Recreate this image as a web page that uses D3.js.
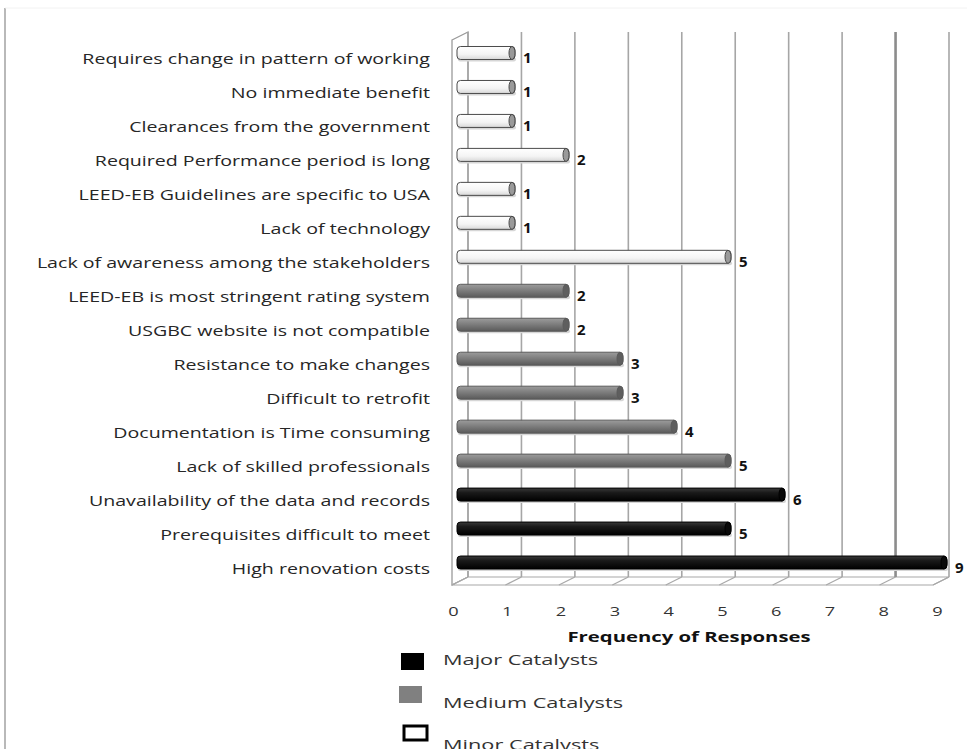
<!DOCTYPE html>
<html>
<head>
<meta charset="utf-8">
<script src="https://cdn.jsdelivr.net/npm/d3@7"></script>
<style>
  html, body { margin: 0; padding: 0; background: #fff; }
  svg { display: block; }
</style>
</head>
<body>
<svg id="chart" width="967" height="749"></svg>
<script>
// Barriers to LEED-EB certification, grouped by catalyst level (top to bottom)
const categories = [
  "Requires change in pattern of working",
  "No immediate benefit",
  "Clearances from the government",
  "Required Performance period is long",
  "LEED-EB Guidelines are specific to USA",
  "Lack of technology",
  "Lack of awareness among the stakeholders",
  "LEED-EB is most stringent rating system",
  "USGBC website is not compatible",
  "Resistance to make changes",
  "Difficult to retrofit",
  "Documentation is Time consuming",
  "Lack of skilled professionals",
  "Unavailability of the data and records",
  "Prerequisites difficult to meet",
  "High renovation costs"
];
const responses = [1, 1, 1, 2, 1, 1, 5, 2, 2, 3, 3, 4, 5, 6, 5, 9];
const levels = ["Minor", "Minor", "Minor", "Minor", "Minor", "Minor", "Minor",
                "Medium", "Medium", "Medium", "Medium", "Medium", "Medium",
                "Major", "Major", "Major"];
const xTicks = [0, 1, 2, 3, 4, 5, 6, 7, 8, 9];
const legendItems = [
  { key: "Major", label: "Major Catalysts" },
  { key: "Medium", label: "Medium Catalysts" },
  { key: "Minor", label: "Minor Catalysts" }
];
const axisTitle = "Frequency of Responses";

const svg = d3.select("#chart");
const FONT = "'Open Sans', 'Noto Sans', sans-serif";
const STRETCH = 1.4;

// 3D frame geometry: front plane and back wall offset by depth
const depth = { dx: 16, dy: -8 };
const front = { left: 452, right: 933, top: 40, bottom: 585 };
const xFront = d3.scaleLinear().domain([0, 9]).range([front.left, front.right]);
const xBack = d3.scaleLinear().domain([0, 9]).range([front.left + depth.dx, front.right + depth.dx]);
const xBar = d3.scaleLinear().domain([0, 9]).range([461, 947]);
const barStart = 457;
const xLabel = d3.scaleLinear().domain([0, 9]).range([453, 937]);
const y = d3.scaleBand().domain(categories).range([36.5, 580]).padding(0);

// figure border
svg.append("line").attr("x1", 5).attr("x2", 5).attr("y1", 8).attr("y2", 749)
  .attr("stroke", "#8a8a8a").attr("stroke-width", 1.2);
svg.append("line").attr("x1", 5).attr("x2", 967).attr("y1", 8).attr("y2", 8)
  .attr("stroke", "#f2f2f2").attr("stroke-width", 1);

const frame = svg.append("g");
// left side wall
frame.append("polygon")
  .attr("points", [
    [front.left, front.top], [front.left + depth.dx, front.top + depth.dy],
    [front.left + depth.dx, front.bottom + depth.dy], [front.left, front.bottom]
  ].map(p => p.join(",")).join(" "))
  .attr("fill", "#fff").attr("stroke", "#9a9a9a").attr("stroke-width", 1.3);
// floor
frame.append("polygon")
  .attr("points", [
    [front.left, front.bottom], [front.right, front.bottom],
    [front.right + depth.dx, front.bottom + depth.dy], [front.left + depth.dx, front.bottom + depth.dy]
  ].map(p => p.join(",")).join(" "))
  .attr("fill", "#fff").attr("stroke", "#a8a8a8").attr("stroke-width", 1.2);
// back-wall gridlines
frame.selectAll("line.grid").data(xTicks).join("line")
  .attr("class", "grid")
  .attr("x1", d => xBack(d)).attr("x2", d => xBack(d))
  .attr("y1", front.top + depth.dy).attr("y2", front.bottom + depth.dy)
  .attr("stroke", d => d === 8 ? "#8c8c8c" : "#a6a6a6")
  .attr("stroke-width", d => d === 8 ? 2.6 : 1.6);
// floor ticks
frame.selectAll("line.floor").data(xTicks).join("line")
  .attr("class", "floor")
  .attr("x1", d => xFront(d)).attr("x2", d => xBack(d))
  .attr("y1", front.bottom).attr("y2", front.bottom + depth.dy)
  .attr("stroke", "#a8a8a8").attr("stroke-width", 1.2);

// gradients for cylinder bars
const defs = svg.append("defs");
const grad = (id, stops) => {
  const g = defs.append("linearGradient").attr("id", id)
    .attr("x1", 0).attr("x2", 0).attr("y1", 0).attr("y2", 1);
  stops.forEach(([o, c]) => g.append("stop").attr("offset", o).attr("stop-color", c));
};
grad("g-Major", [[0, "#3a3a3a"], [0.35, "#1a1a1a"], [1, "#000"]]);
grad("g-Medium", [[0, "#9c9c9c"], [0.35, "#858585"], [1, "#5a5a5a"]]);
grad("g-Minor", [[0, "#ffffff"], [0.6, "#f4f4f4"], [1, "#d8d8d8"]]);
const capFill = { Major: "#0a0a0a", Medium: "#5e5e5e", Minor: "#9a9a9a" };
const barStroke = { Major: "#000", Medium: "#5a5a5a", Minor: "#4a4a4a" };

const rows = categories.map((c, i) => ({ cat: c, v: responses[i], level: levels[i] }));
const barH = 13;
const bars = svg.append("g").selectAll("g").data(rows).join("g")
  .attr("transform", d => `translate(0,${y(d.cat) + y.bandwidth() / 2 - 0.5})`);

// soft shadow beneath each bar
bars.append("rect")
  .attr("x", barStart + 1).attr("y", barH / 2 - 2)
  .attr("width", d => xBar(d.v) - barStart).attr("height", 4)
  .attr("rx", 2).attr("fill", "#d6d6d6");
bars.append("rect")
  .attr("x", barStart).attr("y", -barH / 2)
  .attr("width", d => xBar(d.v) - barStart).attr("height", barH)
  .attr("rx", 3.5)
  .attr("fill", d => `url(#g-${d.level})`)
  .attr("stroke", d => barStroke[d.level]).attr("stroke-width", 1);
bars.append("ellipse")
  .attr("cx", d => xBar(d.v) - 3).attr("cy", 0)
  .attr("rx", 3).attr("ry", barH / 2)
  .attr("fill", d => capFill[d.level])
  .attr("stroke", d => barStroke[d.level]).attr("stroke-width", 1);

// value labels
bars.append("text")
  .attr("x", d => xBar(d.v) + 8).attr("y", 10)
  .attr("font-family", FONT).attr("font-size", 15).attr("font-weight", "bold")
  .attr("fill", "#111")
  .text(d => d.v);

// category labels (right-aligned, wide face)
svg.append("g").selectAll("g").data(categories).join("g")
  .attr("transform", d => `translate(430,${y(d) + y.bandwidth() / 2 + 10.5}) scale(${STRETCH},1)`)
  .append("text")
  .attr("text-anchor", "end")
  .attr("font-family", FONT).attr("font-size", 14)
  .attr("fill", "#262626")
  .text(d => d);

// x axis tick labels, each stretched about its own tick
const axis = svg.append("g")
  .attr("transform", "translate(0,607)")
  .call(d3.axisBottom(xLabel).tickValues(xTicks).tickSize(0).tickPadding(0));
axis.select(".domain").remove();
axis.selectAll(".tick text")
  .attr("font-family", FONT).attr("font-size", 13).attr("fill", "#333")
  .attr("transform", `scale(${STRETCH},1)`);

// axis title
svg.append("g").attr("transform", `translate(689,642) scale(1.45,1)`)
  .append("text").attr("text-anchor", "middle")
  .attr("font-family", FONT).attr("font-size", 14).attr("font-weight", "bold")
  .attr("fill", "#111").text(axisTitle);

// legend
const legendY = [660, 703, 745];
const legend = svg.append("g").selectAll("g").data(legendItems).join("g")
  .attr("transform", (d, i) => `translate(0,${legendY[i]})`);
legend.append("rect")
  .attr("x", (d, i) => [401, 399, 404][i]).attr("y", (d, i) => [-7, -17, -19][i])
  .attr("width", 23).attr("height", (d, i) => [17, 17, 14][i])
  .attr("fill", d => ({ Major: "#000", Medium: "#808080", Minor: "#fff" })[d.key])
  .attr("stroke", d => ({ Major: "#000", Medium: "#808080", Minor: "#000" })[d.key])
  .attr("stroke-width", d => d.key === "Minor" ? 3 : 0);
legend.append("g")
  .attr("transform", `translate(443,5) scale(1.45,1)`)
  .append("text")
  .attr("font-family", FONT).attr("font-size", 15).attr("fill", "#333")
  .text(d => d.label);
</script>
</body>
</html>
